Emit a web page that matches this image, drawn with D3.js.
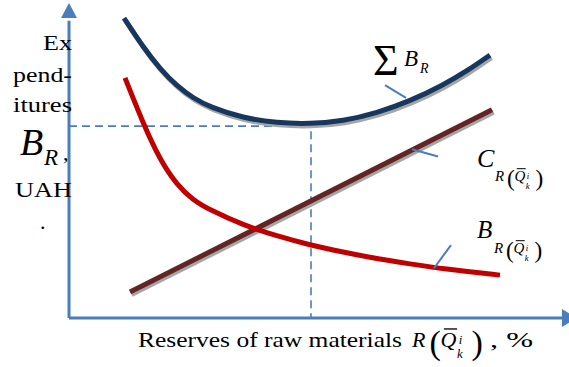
<!DOCTYPE html>
<html>
<head>
  <meta charset="UTF-8">
  <script src="https://d3js.org/d3.v7.min.js"></script>
  <style>
    body { margin: 0; background: #fff; }
    text { font-family: "Liberation Serif", "Times New Roman", serif; fill: #000; }
    .it { font-style: italic; }
  </style>
</head>
<body>
  <div id="chart"></div>
  <script>
    // reserves of raw materials (x, %) and expenditure values (y)
    const totalX = [11, 14.8, 18.2, 21.6, 24.8, 28.2, 34.8, 41.6, 48.2, 54.8, 61.6, 68.2, 74.8, 79.6, 84.2];
    const totalY = [95.8, 86.6, 79.6, 74.1, 70.3, 67.4, 63.9, 62.3, 62.0, 62.9, 65.5, 69.3, 74.4, 78.9, 84.0];

    const lossX = [11.2, 14.8, 18.2, 21.6, 24.8, 28.2, 34.8, 41.6, 48.2, 54.8, 61.6, 68.2, 74.8, 86.2];
    const lossY = [76.7, 62.3, 50.5, 42.5, 37.7, 34.5, 29.7, 26.2, 23.3, 21.1, 18.9, 17.3, 15.7, 13.7];

    const costX = [12.2, 84.6];
    const costY = [8.3, 66.5];

    const optimum = { x: 48.4, y: 61.3 };

    const width = 569, height = 367;

    const x = d3.scaleLinear().domain([0, 100]).range([69, 569]);
    const y = d3.scaleLinear().domain([0, 100]).range([318, 5]);

    const svg = d3.select("#chart").append("svg")
      .attr("width", width)
      .attr("height", height);

    const axisColor = "#4a7ebb";

    // dashed guides to the optimum
    svg.append("path")
      .attr("d", `M${x(0)},${y(optimum.y)}H${x(optimum.x)}V${y(0)}`)
      .attr("fill", "none")
      .attr("stroke", axisColor)
      .attr("stroke-width", 1.6)
      .attr("stroke-dasharray", "8,5");

    const zip = (xs, ys) => xs.map((v, i) => [v, ys[i]]);
    const line = d3.line()
      .x(d => x(d[0]))
      .y(d => y(d[1]))
      .curve(d3.curveBasis);

    function curve(pts, color, shadow) {
      if (shadow) {
        svg.append("path")
          .attr("d", line(pts))
          .attr("fill", "none")
          .attr("stroke", "#a6a6a6")
          .attr("stroke-width", 5)
          .attr("transform", "translate(1.5,2.5)");
      }
      svg.append("path")
        .attr("d", line(pts))
        .attr("fill", "none")
        .attr("stroke", color)
        .attr("stroke-width", 5);
    }

    curve(zip(costX, costY), "#632523", true);
    curve(zip(lossX, lossY), "#c00000", false);
    curve(zip(totalX, totalY), "#17375e", true);

    // axes with arrow heads
    svg.append("path")
      .attr("d", `M${x(0)},${y(0)}V${y(95)}`)
      .attr("stroke", axisColor)
      .attr("stroke-width", 3);
    svg.append("path")
      .attr("d", `M${x(0) - 8},18L${x(0) + 8},18L${x(0)},3Z`)
      .attr("fill", axisColor);
    svg.append("path")
      .attr("d", `M${x(0)},${y(0)}H562`)
      .attr("stroke", axisColor)
      .attr("stroke-width", 3);
    svg.append("path")
      .attr("d", `M562,${y(0) - 9}L562,${y(0) + 9}L577,${y(0)}Z`)
      .attr("fill", axisColor);

    // leader lines for the labels
    const leaders = [
      [[63.2, 74.4], [67.4, 70.3]],
      [[68.6, 53.9], [73.8, 51.6]],
      [[73.0, 15.9], [76.4, 23.3]]
    ];
    leaders.forEach(l => {
      svg.append("line")
        .attr("x1", x(l[0][0])).attr("y1", y(l[0][1]))
        .attr("x2", x(l[1][0])).attr("y2", y(l[1][1]))
        .attr("stroke", axisColor)
        .attr("stroke-width", 2);
    });

    // R(Q̄ k i) notation
    function rq(px, py, s) {
      const g = svg.append("g").attr("transform", `translate(${px},${py})`);
      g.append("text").attr("class", "it").attr("font-size", s).text("R");
      g.append("text").attr("x", 0.8 * s).attr("y", 0.3 * s)
        .attr("font-size", 1.55 * s).text("(");
      g.append("text").attr("class", "it").attr("x", 1.3 * s).attr("font-size", s).text("Q");
      g.append("line")
        .attr("x1", 1.45 * s).attr("x2", 2.05 * s)
        .attr("y1", -0.82 * s).attr("y2", -0.82 * s)
        .attr("stroke", "#000").attr("stroke-width", Math.max(1, 0.06 * s));
      g.append("text").attr("class", "it").attr("x", 2.12 * s).attr("y", -0.12 * s)
        .attr("font-size", 0.58 * s).text("i");
      g.append("text").attr("class", "it").attr("x", 2.05 * s).attr("y", 0.5 * s)
        .attr("font-size", 0.58 * s).text("k");
      g.append("text").attr("x", 2.7 * s).attr("y", 0.3 * s)
        .attr("font-size", 1.55 * s).text(")");
      return g;
    }

    // x axis title
    svg.append("text")
      .attr("x", 138).attr("y", 347)
      .attr("font-size", 22)
      .attr("textLength", 264)
      .attr("lengthAdjust", "spacingAndGlyphs")
      .text("Reserves of raw materials");
    rq(412, 347, 22);
    svg.append("text")
      .attr("x", 490).attr("y", 347)
      .attr("font-size", 22)
      .attr("textLength", 43)
      .attr("lengthAdjust", "spacingAndGlyphs")
      .text(", %");

    // y axis title
    const yLines = [["Ex", 50, 29], ["pend-", 82, 59], ["itures", 112, 59], ["UAH", 197, 57]];
    yLines.forEach(d => {
      svg.append("text")
        .attr("x", 72 - d[2]).attr("y", d[1])
        .attr("font-size", 22)
        .attr("textLength", d[2])
        .attr("lengthAdjust", "spacingAndGlyphs")
        .text(d[0]);
    });
    svg.append("text")
      .attr("x", 40).attr("y", 229).attr("font-size", 22).text(".");
    svg.append("text").attr("class", "it")
      .attr("x", 20).attr("y", 155).attr("font-size", 38).text("B");
    svg.append("text").attr("class", "it")
      .attr("x", 44).attr("y", 165).attr("font-size", 23).text("R");
    svg.append("text")
      .attr("x", 63).attr("y", 160).attr("font-size", 22).text(",");

    // sum label
    svg.append("text")
      .attr("x", 373).attr("y", 75).attr("font-size", 44).text("Σ");
    svg.append("text").attr("class", "it")
      .attr("x", 404).attr("y", 66).attr("font-size", 23).text("B");
    svg.append("text").attr("class", "it")
      .attr("x", 420).attr("y", 73).attr("font-size", 14).text("R");

    // cost label
    svg.append("text").attr("class", "it")
      .attr("x", 477).attr("y", 167).attr("font-size", 26).text("C");
    rq(495, 181, 15);

    // loss label
    svg.append("text").attr("class", "it")
      .attr("x", 477).attr("y", 238).attr("font-size", 25).text("B");
    rq(494, 253, 15);
  </script>
</body>
</html>
